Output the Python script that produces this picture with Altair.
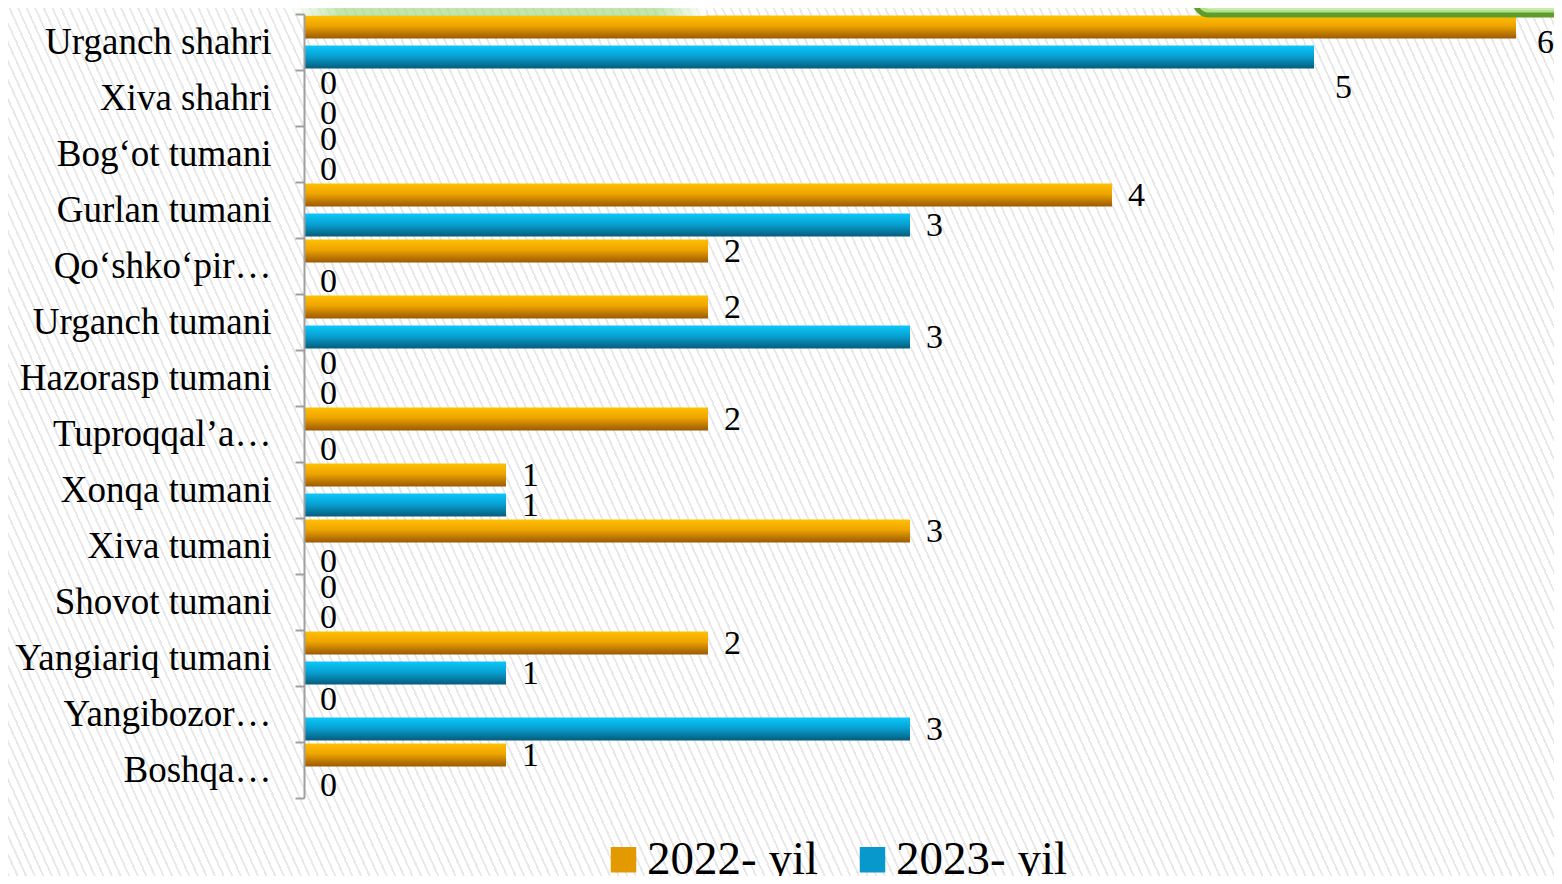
import math
import altair as alt
import pandas as pd

categories = ["Urganch shahri", "Xiva shahri", "Bog‘ot tumani", "Gurlan tumani",
              "Qo‘shko‘pir…", "Urganch tumani", "Hazorasp tumani", "Tuproqqal’a…",
              "Xonqa tumani", "Xiva tumani", "Shovot tumani", "Yangiariq tumani",
              "Yangibozor…", "Boshqa…"]
series = ["2022- yil", "2023- yil"]
v2022 = [6, 0, 0, 4, 2, 2, 0, 2, 1, 3, 0, 2, 0, 1]
v2023 = [5, 0, 0, 3, 0, 3, 0, 0, 1, 0, 0, 1, 3, 0]

rows = []
for c, a, b in zip(categories, v2022, v2023):
    rows.append({"cat": c, "series": series[0], "value": a})
    rows.append({"cat": c, "series": series[1], "value": b})
df = pd.DataFrame(rows)

W, H = 1212, 784
PAD = {"left": 296, "top": 6, "right": 38, "bottom": 78}
FONT = "Liberation Serif"

# ---- hatched background via a striped gradient ----
BW = PAD["left"] + W + PAD["right"]
BH = PAD["top"] + H + PAD["bottom"]
slope = 2.2
k = (slope / BH + 1 / BW) / (slope ** 2 / BH ** 2 + 1 / BW ** 2)
gx, gy = slope * k / BH, -k / BW
length = (slope * BW + BH) / math.sqrt(1 + slope ** 2)
spacing = 7.8
N = int(length / spacing)
f = 0.24
stops = []
for i in range(N):
    stops += [
        {"offset": round(i / N, 6), "color": "#e8e8e8"},
        {"offset": round((i + f) / N, 6), "color": "#e8e8e8"},
        {"offset": round((i + f) / N, 6), "color": "#ffffff"},
        {"offset": round((i + 1) / N, 6), "color": "#ffffff"},
    ]
stripe_grad = alt.LinearGradient(gradient="linear", stops=stops,
                                 x1=0, y1=1, x2=round(gx, 6), y2=round(1 + gy, 6))

bg = alt.Chart(pd.DataFrame({"a": [0]})).mark_rect(color=stripe_grad).encode(
    x=alt.value(-PAD["left"]), x2=alt.value(W + PAD["right"]),
    y=alt.value(-PAD["top"]), y2=alt.value(H + PAD["bottom"]))

orange = alt.LinearGradient(gradient="linear", x1=0, y1=0, x2=0, y2=1, stops=[
    {"offset": 0, "color": "#ffc000"}, {"offset": 0.45, "color": "#eea400"},
    {"offset": 1, "color": "#9a5a04"}])
blue = alt.LinearGradient(gradient="linear", x1=0, y1=0, x2=0, y2=1, stops=[
    {"offset": 0, "color": "#0cc8fa"}, {"offset": 0.45, "color": "#08a2d4"},
    {"offset": 1, "color": "#055c7c"}])

y_enc = alt.Y("cat:N", sort=categories,
              scale=alt.Scale(domain=categories, paddingInner=0, paddingOuter=0),
              axis=alt.Axis(title=None, labelFont=FONT, labelFontSize=37, labelColor="#000",
                            labelLimit=500, domainColor="#a0a0a0", domainWidth=2,
                            tickColor="#a0a0a0", tickWidth=2, tickSize=9, tickBand="extent",
                            labelPadding=24, grid=False, zindex=1))
yo_enc = alt.YOffset("series:N", sort=series,
                     scale=alt.Scale(domain=series, paddingInner=0.233, paddingOuter=0.05))
x_enc = alt.X("value:Q", scale=alt.Scale(domain=[0, 6], nice=False, zero=True), axis=None)

base = alt.Chart(df).encode(y=y_enc, yOffset=yo_enc, x=x_enc)

b22 = base.transform_filter(alt.datum.series == series[0]).mark_bar(color=orange)
b23 = base.transform_filter(alt.datum.series == series[1]).mark_bar(color=blue)

txt = dict(font=FONT, fontSize=34, color="#000", align="left", baseline="middle")
labels = base.transform_filter("datum.value < 5").mark_text(dx=16, dy=1, **txt).encode(
    text="value:Q")
lab5 = base.transform_filter("datum.value == 5").mark_text(dx=21, dy=31, **txt).encode(
    text="value:Q")
lab6 = base.transform_filter("datum.value == 6").mark_text(dx=21, dy=16, **txt).encode(
    text="value:Q")

legend_layer = alt.Chart(df).transform_filter("false").mark_square().encode(
    color=alt.Color("series:N", sort=series,
                    scale=alt.Scale(domain=series, range=["#e39a00", "#0898cc"]),
                    legend=alt.Legend(title=None, orient="none", direction="horizontal",
                                      legendX=296, legendY=822, symbolType="square",
                                      symbolSize=650, symbolOpacity=1, symbolStrokeWidth=0,
                                      labelFont=FONT, labelFontSize=47, labelColor="#000",
                                      labelOffset=0, columnPadding=30, labelLimit=500)))

# ---- slide decorations (green boxes at top) ----
glow = alt.LinearGradient(gradient="linear", x1=0, y1=0, x2=1, y2=0, stops=[
    {"offset": 0, "color": "#ffffff"}, {"offset": 0.12, "color": "#a8da88"},
    {"offset": 0.88, "color": "#a8da88"}, {"offset": 1, "color": "#ffffff"}])
deco_df = pd.DataFrame({"a": [0]})
glow_rect = alt.Chart(deco_df).mark_rect(color=glow, opacity=0.7).encode(
    x=alt.value(-12), x2=alt.value(402), y=alt.value(-20), y2=alt.value(2))
box = alt.Chart(deco_df).mark_rect(fill="#b2e28c", stroke="#5e9c2c", strokeWidth=5,
                                   cornerRadius=14).encode(
    x=alt.value(891), x2=alt.value(W + 60), y=alt.value(-40), y2=alt.value(1))
box_inner = alt.Chart(deco_df).mark_rect(fill="#b2e28c", stroke="#d2f0bc", strokeWidth=1.5,
                                         cornerRadius=10).encode(
    x=alt.value(898), x2=alt.value(W + 60), y=alt.value(-40), y2=alt.value(-5))

chart = alt.layer(bg, b22, b23, labels, lab5, lab6, legend_layer,
                  glow_rect, box, box_inner).properties(
    width=W, height=H, autosize=alt.AutoSizeParams(type="none"), padding=PAD,
    background="#ffffff"
).configure_view(stroke=None)

chart.save("out.html", embed_options={"renderer": "svg", "actions": False})
